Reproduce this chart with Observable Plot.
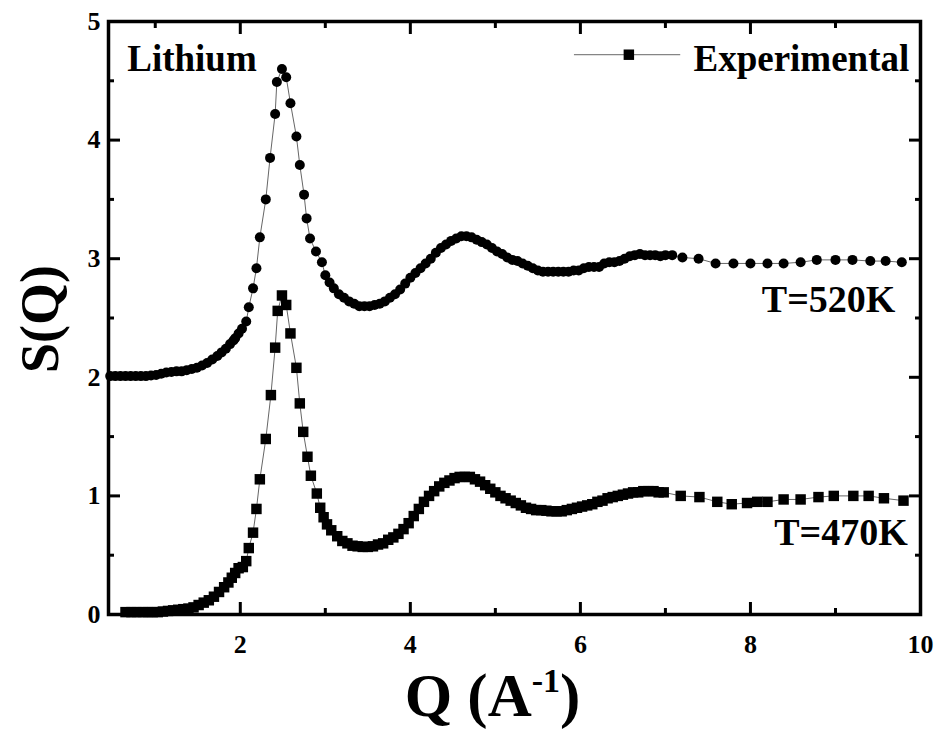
<!DOCTYPE html>
<html><head><meta charset="utf-8">
<script src="https://cdn.jsdelivr.net/npm/d3@7"></script>
<script src="https://cdn.jsdelivr.net/npm/@observablehq/plot@0.6"></script>
<style>
body{margin:0;background:#fff}
</style>
</head><body><div id="chart"></div>
<script>
// T=470K experimental S(Q) (squares)
const q470 = [0.65,0.72,0.78,0.85,0.91,0.97,1.03,1.09,1.15,1.21,1.27,1.33,1.39,1.45,1.51,1.57,1.63,1.69,1.75,1.81,1.86,1.90,1.94,1.98,2.03,2.07,2.10,2.15,2.19,2.23,2.30,2.36,2.41,2.44,2.49,2.54,2.59,2.66,2.70,2.74,2.79,2.83,2.90,2.94,2.98,3.02,3.07,3.14,3.20,3.26,3.32,3.38,3.44,3.50,3.56,3.62,3.68,3.74,3.80,3.86,3.92,3.98,4.04,4.10,4.16,4.22,4.28,4.34,4.40,4.46,4.52,4.58,4.64,4.70,4.76,4.82,4.88,4.94,5.00,5.06,5.12,5.18,5.24,5.30,5.36,5.42,5.48,5.54,5.60,5.66,5.72,5.78,5.84,5.90,5.96,6.02,6.08,6.14,6.20,6.26,6.32,6.38,6.44,6.50,6.56,6.62,6.68,6.74,6.80,6.86,6.92,6.98,7.18,7.40,7.61,7.78,7.96,8.08,8.20,8.39,8.59,8.80,8.98,9.21,9.39,9.57,9.80];
const s470 = [0.02,0.02,0.02,0.02,0.02,0.02,0.02,0.025,0.03,0.035,0.04,0.045,0.05,0.06,0.08,0.10,0.12,0.15,0.19,0.23,0.27,0.31,0.35,0.39,0.40,0.45,0.56,0.69,0.89,1.14,1.48,1.85,2.25,2.56,2.69,2.61,2.37,2.08,1.78,1.54,1.33,1.17,1.02,0.90,0.82,0.76,0.71,0.66,0.62,0.60,0.58,0.575,0.57,0.57,0.575,0.59,0.60,0.63,0.65,0.68,0.72,0.77,0.83,0.89,0.95,1.00,1.04,1.08,1.11,1.13,1.15,1.16,1.16,1.16,1.14,1.12,1.09,1.06,1.03,1.00,0.98,0.96,0.94,0.92,0.90,0.89,0.88,0.88,0.875,0.87,0.87,0.87,0.88,0.89,0.90,0.91,0.92,0.93,0.95,0.96,0.98,0.99,1.00,1.01,1.02,1.03,1.03,1.04,1.04,1.04,1.03,1.03,1.00,0.99,0.95,0.93,0.94,0.95,0.95,0.97,0.97,0.99,1.00,1.00,1.00,0.98,0.96];

// T=520K experimental S(Q) (circles), drawn shifted up by OFFSET_520
const q520 = [0.47,0.53,0.59,0.65,0.71,0.77,0.83,0.89,0.95,1.01,1.07,1.13,1.19,1.25,1.31,1.37,1.43,1.49,1.55,1.61,1.67,1.73,1.78,1.83,1.88,1.92,1.94,1.98,2.02,2.07,2.10,2.15,2.19,2.23,2.30,2.35,2.41,2.43,2.49,2.54,2.59,2.66,2.70,2.75,2.78,2.82,2.89,2.96,3.00,3.05,3.10,3.16,3.22,3.28,3.34,3.40,3.46,3.52,3.58,3.64,3.70,3.76,3.82,3.88,3.94,4.00,4.06,4.12,4.18,4.24,4.30,4.36,4.42,4.48,4.54,4.60,4.66,4.72,4.78,4.84,4.90,4.96,5.02,5.08,5.14,5.20,5.26,5.32,5.38,5.44,5.50,5.56,5.62,5.68,5.74,5.80,5.86,5.92,5.98,6.04,6.10,6.16,6.22,6.28,6.34,6.40,6.46,6.52,6.58,6.64,6.70,6.76,6.82,6.88,6.94,7.00,7.08,7.20,7.39,7.59,7.80,8.00,8.20,8.39,8.59,8.78,9.00,9.20,9.41,9.59,9.78];
const s520 = [0.01,0.01,0.01,0.01,0.01,0.01,0.01,0.01,0.015,0.02,0.03,0.04,0.045,0.05,0.05,0.06,0.07,0.08,0.10,0.12,0.15,0.18,0.21,0.24,0.28,0.31,0.33,0.37,0.41,0.47,0.59,0.75,0.92,1.18,1.50,1.85,2.22,2.49,2.60,2.53,2.31,2.03,1.79,1.54,1.34,1.17,1.06,0.97,0.86,0.80,0.75,0.70,0.67,0.64,0.62,0.60,0.60,0.60,0.61,0.62,0.64,0.67,0.70,0.74,0.79,0.84,0.88,0.92,0.96,1.00,1.05,1.09,1.12,1.15,1.17,1.19,1.19,1.18,1.16,1.14,1.12,1.09,1.06,1.04,1.01,0.99,0.98,0.96,0.94,0.92,0.90,0.89,0.89,0.89,0.89,0.89,0.89,0.90,0.90,0.92,0.93,0.93,0.93,0.96,0.97,0.97,0.98,1.00,1.02,1.03,1.04,1.03,1.03,1.03,1.02,1.03,1.03,1.01,1.00,0.96,0.96,0.96,0.96,0.96,0.97,0.99,0.99,0.99,0.98,0.98,0.97];
const OFFSET_520 = 2;

// ticks
const xMajor = [2,4,6,8,10];
const xMinor = [1,3,5,7,9];
const yMajor = [0,1,2,3,4,5];
const yMinor = [0.5,1.5,2.5,3.5,4.5];

// labels
const sampleLabel = "Lithium";
const legendLabel = "Experimental";
const seriesLabels = ["T=520K", "T=470K"];
const xTitle = "Q (A-1)";
const yTitle = "S(Q)";

const d470 = q470.map((q, i) => ({q, s: s470[i]}));
const d520 = q520.map((q, i) => ({q, s: s520[i] + OFFSET_520}));

const FONT = "Liberation Serif";
const tickOpts = {strokeWidth: 3, label: null, fontSize: 26, fontWeight: "bold", fontFamily: FONT};
const noLabel = () => "";
const intFmt = d3.format("d");

const plot = Plot.plot({
  width: 941, height: 742,
  marginLeft: 108, marginRight: 21, marginTop: 21, marginBottom: 128,
  style: "font-family: 'Liberation Serif', serif; font-weight: bold; font-size: 26px; color: black; background: white;",
  x: {domain: [0.45, 10]},
  y: {domain: [0, 5]},
  marks: [
    Plot.axisX(xMajor, {...tickOpts, anchor: "bottom", tickSize: -12, tickPadding: 32, tickFormat: intFmt}),
    Plot.axisX(xMinor, {...tickOpts, anchor: "bottom", tickSize: -6, tickFormat: noLabel}),
    Plot.axisX(xMajor, {...tickOpts, anchor: "top", tickSize: -12, tickFormat: noLabel}),
    Plot.axisX(xMinor, {...tickOpts, anchor: "top", tickSize: -6, tickFormat: noLabel}),
    Plot.axisY(yMajor, {...tickOpts, anchor: "left", tickSize: -12, tickPadding: 20, tickFormat: intFmt}),
    Plot.axisY(yMinor, {...tickOpts, anchor: "left", tickSize: -6, tickFormat: noLabel}),
    Plot.axisY(yMajor, {...tickOpts, anchor: "right", tickSize: -12, tickFormat: noLabel}),
    Plot.axisY(yMinor, {...tickOpts, anchor: "right", tickSize: -6, tickFormat: noLabel}),
    Plot.line(d520, {x: "q", y: "s", stroke: "#666", strokeWidth: 1}),
    Plot.line(d470, {x: "q", y: "s", stroke: "#666", strokeWidth: 1}),
    Plot.dot(d520, {x: "q", y: "s", r: 5, symbol: "circle", fill: "black", stroke: "none"}),
    Plot.dot(d470, {x: "q", y: "s", r: 5.9, symbol: "square", fill: "black", stroke: "none"}),
    Plot.frame({stroke: "black", strokeWidth: 3.5}),
    // annotations
    Plot.text([sampleLabel], {x: 0.67, y: 4.68, text: d => d, textAnchor: "start", lineAnchor: "middle", fontSize: 37, fontWeight: "bold", fontFamily: FONT}),
    Plot.ruleY([4.72], {x1: 5.93, x2: 7.18, stroke: "#666", strokeWidth: 1}),
    Plot.dot([4.72], {x: 6.57, y: d => d, r: 5.9, symbol: "square", fill: "black"}),
    Plot.text([legendLabel], {x: 7.33, y: 4.68, text: d => d, textAnchor: "start", lineAnchor: "middle", fontSize: 37, fontWeight: "bold", fontFamily: FONT}),
    Plot.text([seriesLabels[0]], {x: 9.705, y: 2.656, text: d => d, textAnchor: "end", lineAnchor: "middle", fontSize: 38, fontWeight: "bold", fontFamily: FONT}),
    Plot.text([seriesLabels[1]], {x: 9.85, y: 0.687, text: d => d, textAnchor: "end", lineAnchor: "middle", fontSize: 38, fontWeight: "bold", fontFamily: FONT}),
    // axis titles
    Plot.text([xTitle], {frameAnchor: "bottom", text: d => d, dx: -22, dy: 82, lineAnchor: "middle", fontSize: 61, fontWeight: "bold", fontFamily: FONT}),
    Plot.text([yTitle], {frameAnchor: "left", text: d => d, dx: -68, dy: 55, rotate: -90, lineAnchor: "middle", fontSize: 54, fontWeight: "bold", fontFamily: FONT})
  ]
});

// superscript for the x-axis title
const tEl = Array.from(plot.querySelectorAll("text")).find(e => e.textContent === xTitle);
if (tEl) {
  tEl.textContent = "";
  const ns = "http://www.w3.org/2000/svg";
  const a = document.createElementNS(ns, "tspan"); a.textContent = "Q (A";
  const b = document.createElementNS(ns, "tspan"); b.textContent = "-1"; b.setAttribute("dy", "-24"); b.setAttribute("font-size", "34");
  const c = document.createElementNS(ns, "tspan"); c.textContent = ")"; c.setAttribute("dy", "24");
  tEl.append(a, b, c);
}
document.getElementById("chart").append(plot);
</script>
</body></html>
